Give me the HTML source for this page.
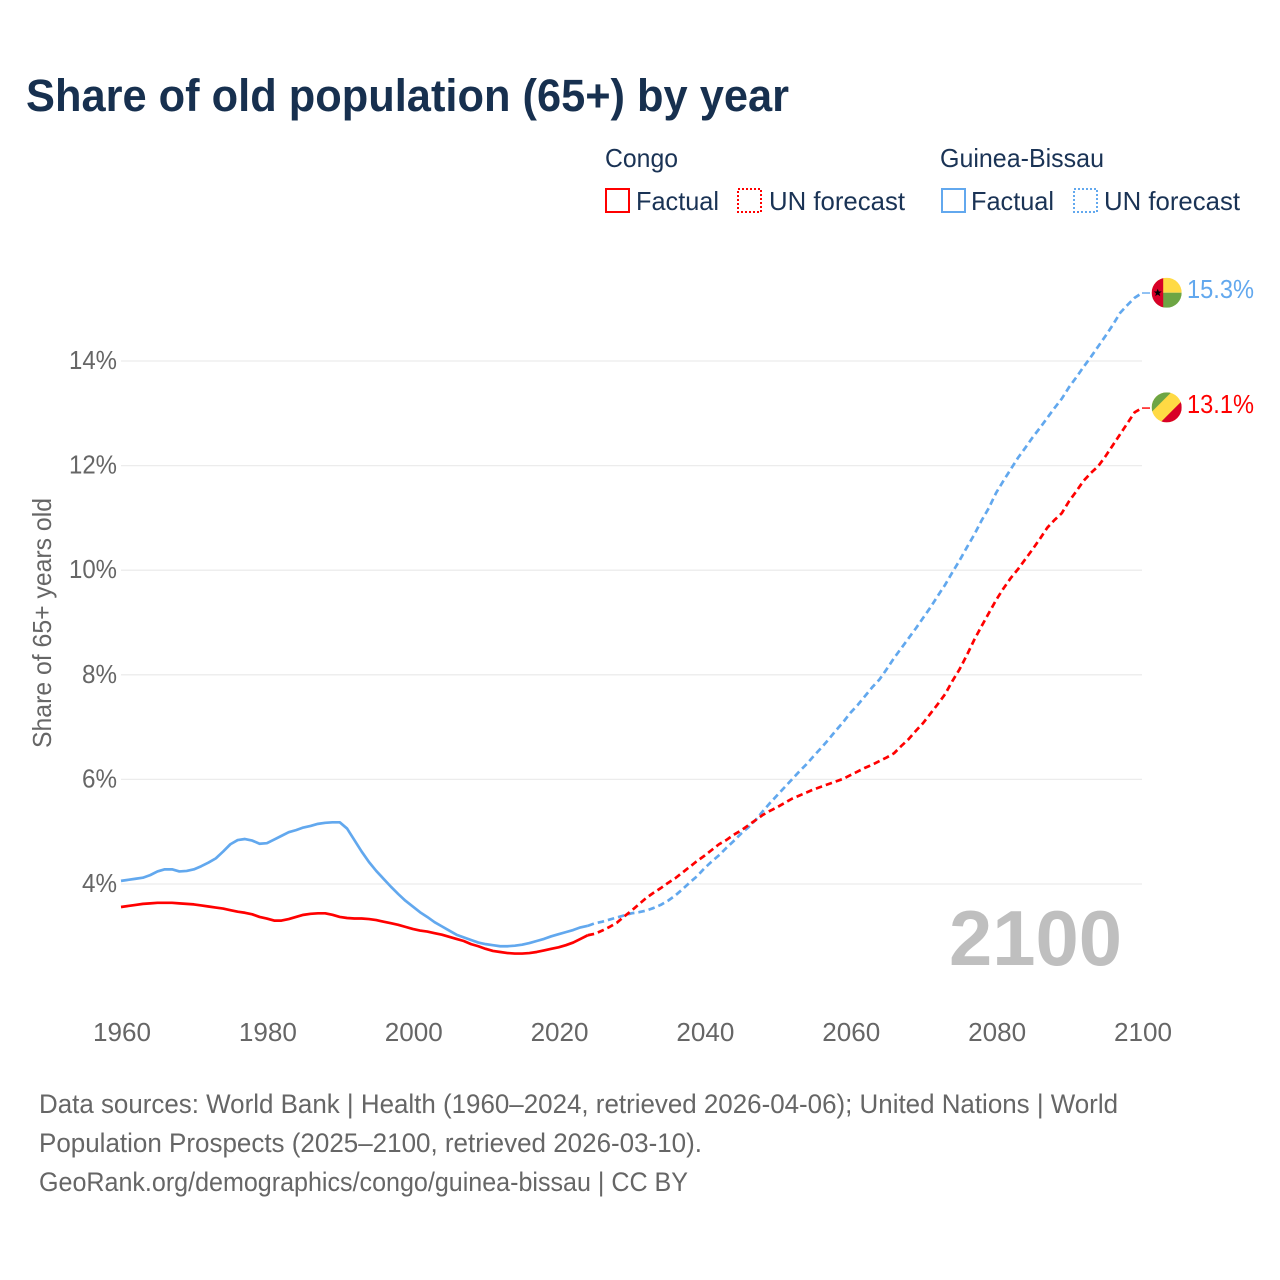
<!DOCTYPE html>
<html lang="en">
<head>
<meta charset="utf-8">
<title>Share of old population (65+) by year</title>
<style>
html,body{margin:0;padding:0;background:#fff;}
svg{display:block;}
text{font-family:"Liberation Sans",sans-serif;}
</style>
</head>
<body>
<svg id="chart" xmlns="http://www.w3.org/2000/svg" width="1280" height="1280" viewBox="0 0 1280 1280">
  <defs>
    <clipPath id="clip-flag-gw"><circle cx="0" cy="0" r="15"/></clipPath>
    <clipPath id="clip-flag-cg"><circle cx="0" cy="0" r="15"/></clipPath>
  </defs>
  <rect x="0" y="0" width="1280" height="1280" fill="#ffffff"/>
  <text x="26" y="111" font-size="45" font-weight="700" fill="#17304f" textLength="763" lengthAdjust="spacingAndGlyphs">Share of old population (65+) by year</text>

  <g font-size="26" fill="#1a3355">
    <text x="605" y="167" textLength="73" lengthAdjust="spacingAndGlyphs">Congo</text>
    <rect x="606" y="189" width="23" height="23" fill="none" stroke="#ff0000" stroke-width="2"/>
    <text x="636" y="210" textLength="83" lengthAdjust="spacingAndGlyphs">Factual</text>
    <rect x="738" y="189" width="23" height="23" fill="none" stroke="#ff0000" stroke-width="2" stroke-dasharray="2 2"/>
    <text x="769" y="210" textLength="136" lengthAdjust="spacingAndGlyphs">UN forecast</text>
    <text x="940" y="167" textLength="164" lengthAdjust="spacingAndGlyphs">Guinea-Bissau</text>
    <rect x="942" y="189" width="23" height="23" fill="none" stroke="#62a8ee" stroke-width="2"/>
    <text x="971" y="210" textLength="83" lengthAdjust="spacingAndGlyphs">Factual</text>
    <rect x="1074" y="189" width="23" height="23" fill="none" stroke="#62a8ee" stroke-width="2" stroke-dasharray="2 2"/>
    <text x="1104" y="210" textLength="136" lengthAdjust="spacingAndGlyphs">UN forecast</text>
  </g>

  <g id="grid"></g>
  <g id="y-axis"></g>
  <g id="x-axis"></g>
  <text transform="translate(51,748) rotate(-90)" x="0" y="0" font-size="26" fill="#666666" textLength="250" lengthAdjust="spacingAndGlyphs">Share of 65+ years old</text>
  <text x="949" y="965" font-size="78" font-weight="700" fill="#bfbfbf" textLength="173" lengthAdjust="spacingAndGlyphs">2100</text>

  <g id="series"></g>

  <g id="flag-gw">
    <g clip-path="url(#clip-flag-gw)">
      <rect x="-15" y="-15" width="30" height="15" fill="#ffda44"/>
      <rect x="-15" y="0" width="30" height="15" fill="#6da544"/>
      <rect x="-15" y="-15" width="11.5" height="30" fill="#d80027"/>
      <polygon points="-9,-4 -7.9,-1.2 -5,-1.2 -7.3,0.6 -6.5,3.4 -9,1.8 -11.5,3.4 -10.7,0.6 -13,-1.2 -10.1,-1.2" fill="#000000"/>
    </g>
  </g>
  <g id="flag-cg">
    <g clip-path="url(#clip-flag-cg)">
      <rect x="-15" y="-15" width="30" height="30" fill="#ffda44"/>
      <polygon points="-15,-15 4.5,-15 -15,4.5" fill="#6da544"/>
      <polygon points="15,-6.2 15,15 -6.2,15" fill="#d80027"/>
    </g>
  </g>
  <text id="value-gw" x="1187" font-size="26" fill="#62a8ee" textLength="67" lengthAdjust="spacingAndGlyphs"></text>
  <text id="value-cg" x="1187" font-size="26" fill="#ff0000" textLength="67" lengthAdjust="spacingAndGlyphs"></text>

  <g font-size="27" fill="#666666">
    <text x="39" y="1113" textLength="1079" lengthAdjust="spacingAndGlyphs">Data sources: World Bank | Health (1960–2024, retrieved 2026-04-06); United Nations | World</text>
    <text x="39" y="1152" textLength="663" lengthAdjust="spacingAndGlyphs">Population Prospects (2025–2100, retrieved 2026-03-10).</text>
    <text x="39" y="1191" textLength="649" lengthAdjust="spacingAndGlyphs">GeoRank.org/demographics/congo/guinea-bissau | CC BY</text>
  </g>
</svg>

<script>
const firstFactualYear = 1960;
const firstForecastYear = 2024;
const xTickYears = [1960, 1980, 2000, 2020, 2040, 2060, 2080, 2100];
const yTickValues = [4, 6, 8, 10, 12, 14];
const congoFactual = [
  3.56,3.58,3.60,3.62,3.63,3.64,3.64,3.64,3.63,3.62,
  3.61,3.59,3.57,3.55,3.53,3.50,3.47,3.45,3.42,3.37,
  3.34,3.30,3.30,3.33,3.37,3.41,3.43,3.44,3.44,3.41,
  3.37,3.35,3.34,3.34,3.33,3.31,3.28,3.25,3.22,3.18,
  3.14,3.11,3.09,3.06,3.03,2.99,2.95,2.91,2.85,2.81,
  2.76,2.72,2.70,2.68,2.67,2.67,2.68,2.70,2.73,2.76,
  2.79,2.83,2.88,2.95,3.02
];
const congoForecast = [
  3.02,3.05,3.11,3.18,3.26,3.38,
  3.49,3.61,3.73,3.83,3.92,4.02,4.11,4.22,4.33,4.44,
  4.54,4.65,4.76,4.84,4.94,5.02,5.12,5.22,5.32,5.40,
  5.47,5.55,5.63,5.69,5.75,5.81,5.86,5.91,5.96,6.01,
  6.08,6.15,6.22,6.28,6.35,6.42,6.50,6.64,6.77,6.93,
  7.08,7.26,7.44,7.63,7.88,8.11,8.38,8.67,8.93,9.18,
  9.43,9.65,9.85,10.02,10.21,10.40,10.60,10.81,10.96,11.09,
  11.32,11.51,11.71,11.86,11.99,12.18,12.39,12.60,12.81,13.02,
  13.10
];
const guineaBissauFactual = [
  4.06,4.08,4.10,4.12,4.17,4.24,4.28,4.28,4.24,4.25,
  4.28,4.34,4.41,4.49,4.62,4.76,4.84,4.86,4.83,4.77,
  4.78,4.85,4.92,4.99,5.03,5.08,5.11,5.15,5.17,5.18,
  5.18,5.06,4.84,4.62,4.42,4.25,4.10,3.95,3.81,3.68,
  3.57,3.46,3.37,3.27,3.19,3.11,3.03,2.98,2.93,2.88,
  2.85,2.83,2.81,2.81,2.82,2.84,2.87,2.91,2.95,3.00,
  3.04,3.08,3.12,3.17,3.20
];
const guineaBissauForecast = [
  3.20,3.25,3.28,3.32,3.36,3.40,
  3.44,3.46,3.49,3.54,3.60,3.68,3.78,3.90,4.03,4.15,
  4.30,4.43,4.55,4.69,4.82,4.96,5.08,5.22,5.39,5.55,
  5.70,5.85,6.00,6.15,6.29,6.45,6.60,6.76,6.93,7.09,
  7.27,7.42,7.59,7.76,7.91,8.11,8.32,8.51,8.70,8.89,
  9.09,9.29,9.51,9.72,9.96,10.19,10.44,10.68,10.95,11.19,
  11.48,11.71,11.93,12.15,12.34,12.54,12.72,12.91,13.10,13.28,
  13.50,13.69,13.89,14.08,14.28,14.48,14.69,14.92,15.07,15.21,
  15.30
];

const SVG_NS = 'http://www.w3.org/2000/svg';
const RED = '#ff0000';
const BLUE = '#62a8ee';

function xScale(year) {
  return 121 + (year - 1960) * (1021 / 140);
}
function yScale(value) {
  return 884 - (value - 4) * 52.3;
}
function linePath(values, startYear) {
  return values.map(function (v, i) {
    return (i === 0 ? 'M' : 'L') + xScale(startYear + i).toFixed(2) + ' ' + yScale(v).toFixed(2);
  }).join(' ');
}

const gridGroup = document.getElementById('grid');
const yAxisGroup = document.getElementById('y-axis');
const xAxisGroup = document.getElementById('x-axis');
const seriesGroup = document.getElementById('series');

yTickValues.forEach(function (v) {
  const gridLine = document.createElementNS(SVG_NS, 'line');
  
  
  gridLine.setAttribute('x1', xScale(1960));
  gridLine.setAttribute('x2', xScale(2100));
  gridLine.setAttribute('y1', yScale(v));
  gridLine.setAttribute('y2', yScale(v));
  gridLine.setAttribute('stroke', '#ececec');
  gridLine.setAttribute('stroke-width', '1.3');
  gridGroup.appendChild(gridLine);

  const label = document.createElementNS(SVG_NS, 'text');
  
  
  label.setAttribute('x', 117);
  label.setAttribute('y', yScale(v) + 8);
  label.setAttribute('text-anchor', 'end');
  label.setAttribute('font-size', '26');
  label.setAttribute('fill', '#666666');
  label.setAttribute('textLength', v >= 10 ? 48 : 35);
  label.setAttribute('lengthAdjust', 'spacingAndGlyphs');
  label.textContent = v + '%';
  yAxisGroup.appendChild(label);
});

xTickYears.forEach(function (year) {
  const label = document.createElementNS(SVG_NS, 'text');
  
  
  label.setAttribute('x', xScale(year) + 1);
  label.setAttribute('y', 1041);
  label.setAttribute('text-anchor', 'middle');
  label.setAttribute('font-size', '26');
  label.setAttribute('fill', '#666666');
  label.setAttribute('textLength', 58);
  label.setAttribute('lengthAdjust', 'spacingAndGlyphs');
  label.textContent = year;
  xAxisGroup.appendChild(label);
});

function addLine(name, d, color, width, dash) {
  const path = document.createElementNS(SVG_NS, 'path');
  
  
  path.setAttribute('d', d);
  path.setAttribute('fill', 'none');
  path.setAttribute('stroke', color);
  path.setAttribute('stroke-width', width);
  path.setAttribute('stroke-linejoin', 'round');
  if (dash) {
    path.setAttribute('stroke-dasharray', dash);
  }
  seriesGroup.appendChild(path);
}

function endLeader(name, lastValue, color) {
  const yEnd = yScale(lastValue);
  const x0 = xScale(2100);
  addLine(name, 'M' + x0 + ' ' + yEnd + ' L' + (x0 + 8) + ' ' + yEnd, color, 1.4, null);
}

addLine('congo-factual-line', linePath(congoFactual, firstFactualYear), RED, 2.7, null);
addLine('guinea-bissau-factual-line', linePath(guineaBissauFactual, firstFactualYear), BLUE, 2.7, null);
addLine('guinea-bissau-forecast-line', linePath(guineaBissauForecast, firstForecastYear), BLUE, 2.7, '6.5 4');
addLine('congo-forecast-line', linePath(congoForecast, firstForecastYear), RED, 2.7, '6.5 4');

const congoLast = congoForecast[congoForecast.length - 1];
const guineaBissauLast = guineaBissauForecast[guineaBissauForecast.length - 1];
endLeader('congo-end-leader', congoLast, RED);
endLeader('guinea-bissau-end-leader', guineaBissauLast, BLUE);

document.getElementById('flag-gw').setAttribute('transform', 'translate(1166.7,' + (yScale(guineaBissauLast) - 0.3) + ')');
document.getElementById('flag-cg').setAttribute('transform', 'translate(1166.7,' + (yScale(congoLast) - 0.7) + ')');
const valueGw = document.getElementById('value-gw');
valueGw.setAttribute('y', yScale(guineaBissauLast) + 5);
valueGw.textContent = guineaBissauLast.toFixed(1) + '%';
const valueCg = document.getElementById('value-cg');
valueCg.setAttribute('y', yScale(congoLast) + 5);
valueCg.textContent = congoLast.toFixed(1) + '%';
</script>
</body>
</html>
